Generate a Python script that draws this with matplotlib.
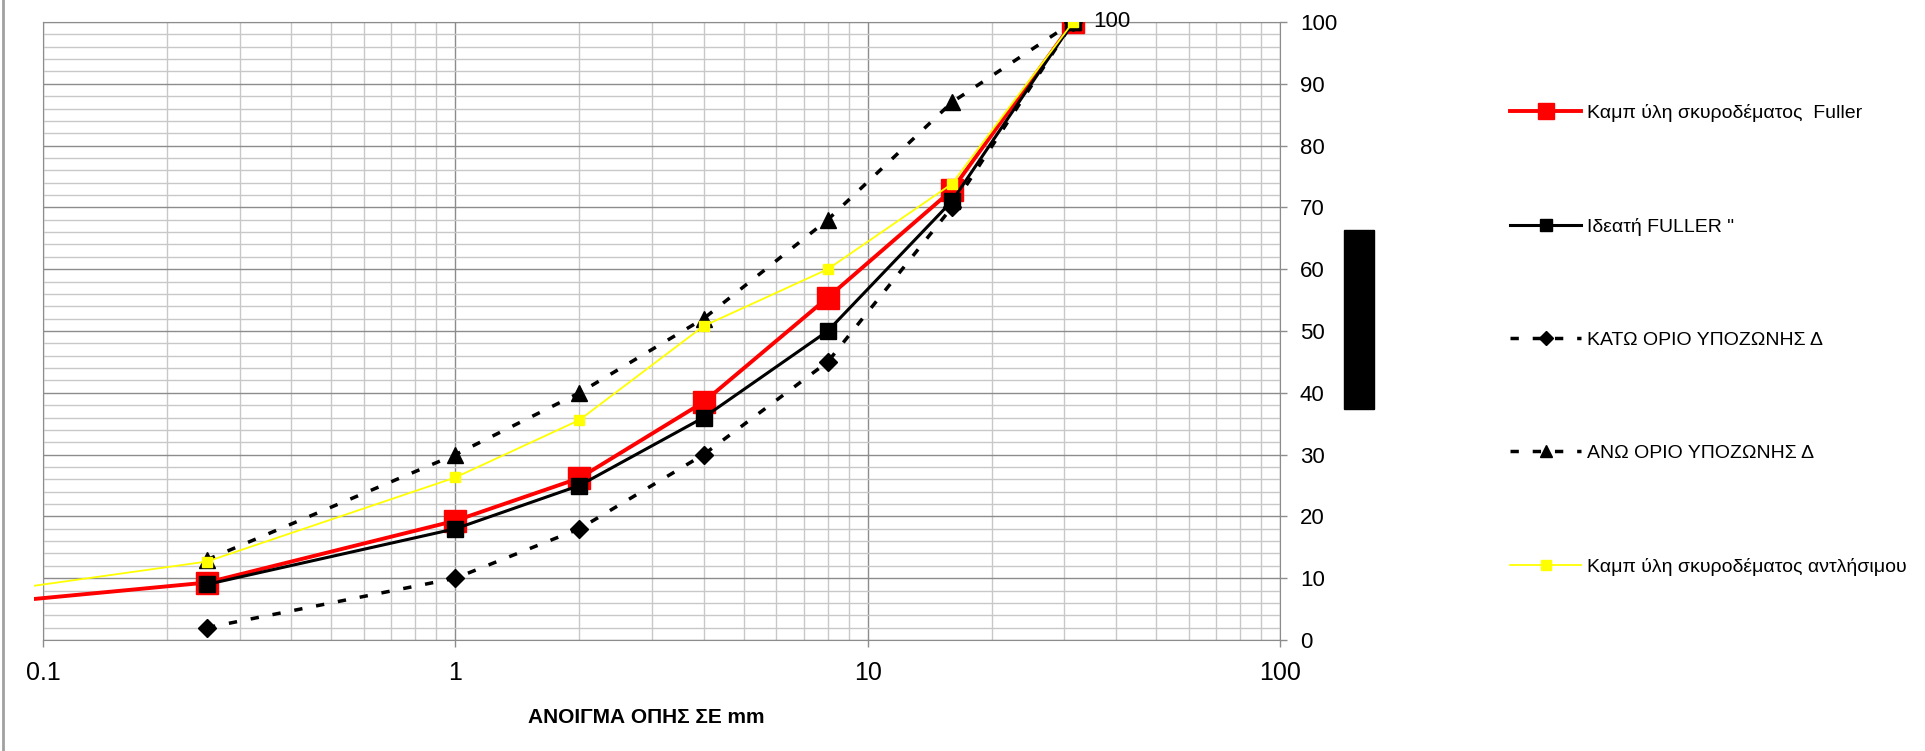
import numpy as np
import matplotlib
matplotlib.use('Agg')
import matplotlib.pyplot as plt
from matplotlib.ticker import LogLocator, FixedLocator, NullFormatter, FixedFormatter
from matplotlib.patches import Rectangle
from matplotlib.lines import Line2D
import matplotlib.transforms as mtransforms

plt.rcParams['font.family'] = ['Liberation Sans', 'DejaVu Sans']

# sieve openings (mm)
sieves = [0.25, 1, 2, 4, 8, 16, 31.5]
sieves_ext = [0.063, 0.25, 1, 2, 4, 8, 16, 31.5]

fuller_mix = [5.5, 9.3, 19.3, 26.2, 38.5, 55.4, 72.8, 100]
fuller_ideal = [9, 18, 25, 36, 50, 71, 100]
lower_limit = [2, 10, 18, 30, 45, 70, 100]
upper_limit = [13, 30, 40, 52, 68, 87, 100]
pump_mix = [7.1, 12.7, 26.3, 35.6, 50.8, 60, 73.8, 100]

labels = ['Καμπ ύλη σκυροδέματος  Fuller', 'Ιδεατή FULLER "',
          'ΚΑΤΩ ΟΡΙΟ ΥΠΟΖΩΝΗΣ Δ', 'ΑΝΩ ΟΡΙΟ ΥΠΟΖΩΝΗΣ Δ',
          'Καμπ ύλη σκυροδέματος αντλήσιμου']

bar_low, bar_high = 37.4, 66.3

fig = plt.figure(figsize=(19.25, 7.51), dpi=100)
ax = fig.add_axes([43/1925, 1-640/751, 1237/1925, 618/751])

# extended clip so curves run a little past the left edge, like the original
clip = Rectangle((-0.0075, 0), 1.0075, 1, transform=ax.transAxes)

l1, = ax.plot(sieves_ext, fuller_mix, color='#ff0000', lw=2.8, marker='s', ms=16,
              zorder=3, label=labels[0])
l2, = ax.plot(sieves, fuller_ideal, color='black', lw=2.2, marker='s', ms=12,
              zorder=4, label=labels[1])
l3, = ax.plot(sieves, lower_limit, color='black', lw=2.5, dashes=(2.4, 4),
              marker='D', ms=9, zorder=5, label=labels[2])
l4, = ax.plot(sieves, upper_limit, color='black', lw=2.5, dashes=(2.4, 4),
              marker='^', ms=12, zorder=5, label=labels[3])
l5, = ax.plot(sieves_ext, pump_mix, color='#ffff00', lw=1.3, marker='s', ms=7.5,
              zorder=6, label=labels[4])
for ln in (l1, l5):
    ln.set_clip_path(clip)

ax.text(sieves[-1] * 1.12, 100, '100', fontsize=16, va='center', ha='left',
        clip_on=False)

ax.set_xscale('log')
ax.set_xlim(0.1, 100)
ax.set_ylim(0, 100)

ax.xaxis.set_major_locator(FixedLocator([0.1, 1, 10, 100]))
ax.xaxis.set_major_formatter(FixedFormatter(['0.1', '1', '10', '100']))
ax.xaxis.set_minor_locator(LogLocator(base=10, subs=np.arange(2, 10)))
ax.xaxis.set_minor_formatter(NullFormatter())
ax.yaxis.set_major_locator(FixedLocator(np.arange(0, 101, 10)))
ax.yaxis.set_minor_locator(FixedLocator(np.arange(0, 101, 2)))

ax.grid(which='major', color='#8c8c8c', lw=1.0)
ax.grid(which='minor', color='#c8c8c8', lw=1.0)
ax.set_axisbelow(True)

ax.yaxis.tick_right()
ax.tick_params(axis='both', which='major', direction='out', length=5,
               color='#8c8c8c', width=1)
ax.tick_params(axis='both', which='minor', length=0)
ax.tick_params(axis='x', labelsize=18, pad=10)
ax.tick_params(axis='y', labelsize=16, pad=9.4)
for s in ax.spines.values():
    s.set_color('#8c8c8c')

ax.set_xlabel('ΑΝΟΙΓΜΑ ΟΠΗΣ ΣΕ mm', fontsize=15, fontweight='bold')
ax.xaxis.set_label_coords(0.488, -0.125)
ax.xaxis.label.set_va('center')

# black bar beside the value axis
trans = mtransforms.blended_transform_factory(fig.transFigure, ax.transData)
fig.patches.append(Rectangle((1344/1925, bar_low), 30/1925, bar_high - bar_low,
                             transform=trans, color='black', clip_on=False))

leg = fig.legend(handles=[l1, l2, l3, l4, l5], loc='upper left',
                 bbox_to_anchor=(1510/1925, 1-104/751), frameon=False,
                 prop={'size': 14}, handlelength=3.66,
                 handletextpad=0.3, labelspacing=4.92, borderpad=0,
                 borderaxespad=0)
for h, ms in zip(leg.legend_handles, [11.5, 8, 7.5, 8, 7.5]):
    h.set_markersize(ms)

# chart area border (left side)
fig.add_artist(Line2D([3/1925, 3/1925], [0, 1], transform=fig.transFigure,
                      color='#a0a0a0', lw=2))

fig.savefig('out.png', dpi=100)
